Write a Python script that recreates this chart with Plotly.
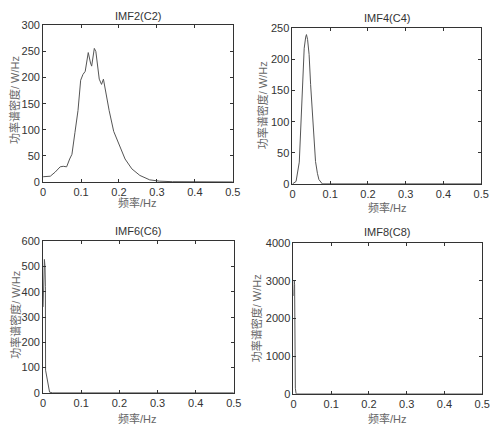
import plotly.graph_objects as go

# ---- data ----
c2_freq = [0, 0.01, 0.019, 0.032, 0.045, 0.053, 0.062, 0.070, 0.076, 0.084, 0.092, 0.099,
           0.105, 0.111, 0.119, 0.125, 0.128, 0.135, 0.139, 0.148, 0.154, 0.159, 0.165,
           0.174, 0.186, 0.195, 0.204, 0.216, 0.234, 0.255, 0.281, 0.307, 0.341, 0.4, 0.5]
c2_psd = [10, 10, 11, 19, 29, 30, 29, 44, 53, 95, 137, 195,
          206, 212, 248, 228, 222, 256, 250, 197, 187, 197, 172,
          137, 97, 81, 62, 44, 25, 12.5, 4, 1.5, 0.5, 0, 0]

c4_freq = [0, 0.0095, 0.018, 0.023, 0.027, 0.031, 0.035, 0.037, 0.040, 0.044, 0.048,
           0.053, 0.057, 0.061, 0.066, 0.070, 0.079, 0.5]
c4_psd = [0, 4, 35, 110, 182, 218, 236, 240, 232, 208, 160, 104, 65, 36, 17, 7, 0, 0]

c6_freq = [0, 0.002, 0.0034, 0.005, 0.006, 0.0065, 0.011, 0.017, 0.025, 0.5]
c6_psd = [340, 480, 528, 500, 420, 90, 45, 3, 0, 0]

c8_freq = [0, 0.001, 0.002, 0.003, 0.004, 0.005, 0.007, 0.5]
c8_psd = [2600, 2950, 3020, 2900, 1200, 150, 0, 0]

titles = ["IMF2(C2)", "IMF4(C4)", "IMF6(C6)", "IMF8(C8)"]
x_ticks = [0, 0.1, 0.2, 0.3, 0.4, 0.5]
y_ticks = [
    [0, 50, 100, 150, 200, 250, 300],
    [0, 50, 100, 150, 200, 250],
    [0, 100, 200, 300, 400, 500, 600],
    [0, 1000, 2000, 3000, 4000],
]
x_title = "频率/Hz"
y_title = "功率谱密度/ W/Hz"

W, H = 500, 430
FONT = "Liberation Sans, Arial, Noto Sans CJK SC, sans-serif"
LINE = "#555555"

# panel boxes in pixels: left, right, top, bottom
boxes = [(41, 235, 20, 181), (296, 489, 23, 183), (41, 236, 242, 398), (297, 490, 244, 399)]
title_pos = [(138, 10), (393, 12), (138, 231), (393, 233)]
xt_pos = [(138, 202), (393, 207), (138, 424), (393, 424)]
yt_pos = [(12, 97), (265, 102), (12, 318), (259, 321)]

series = [(c2_freq, c2_psd), (c4_freq, c4_psd), (c6_freq, c6_psd), (c8_freq, c8_psd)]

fig = go.Figure()
layout = {}
annotations = []
for i, ((fx, fy), (l, r, t, b)) in enumerate(zip(series, boxes)):
    n = "" if i == 0 else str(i + 1)
    fig.add_trace(go.Scatter(x=fx, y=fy, mode="lines", line=dict(color=LINE, width=1),
                             xaxis="x" + n, yaxis="y" + n, showlegend=False,
                             hoverinfo="skip"))
    common = dict(showgrid=False, zeroline=False, showline=True, linecolor="#333333",
                  linewidth=1, mirror="ticks", ticks="inside", ticklen=3,
                  tickcolor="#333333", tickfont=dict(family=FONT, size=11, color="#333333"))
    layout["xaxis" + n] = dict(common, domain=[l / W, r / W], anchor="y" + n,
                               range=[0, 0.5], tickvals=x_ticks,
                               ticktext=[("%g" % v) for v in x_ticks])
    layout["yaxis" + n] = dict(common, domain=[1 - b / H, 1 - t / H], anchor="x" + n,
                               range=[0, y_ticks[i][-1]], tickvals=y_ticks[i])
    annotations.append(dict(text=titles[i], x=title_pos[i][0] / W, y=1 - title_pos[i][1] / H,
                            xref="paper", yref="paper", showarrow=False,
                            xanchor="center", yanchor="middle",
                            font=dict(family=FONT, size=11, color="#333333")))
    annotations.append(dict(text=x_title, x=xt_pos[i][0] / W, y=1 - xt_pos[i][1] / H,
                            xref="paper", yref="paper", showarrow=False,
                            xanchor="center", yanchor="middle",
                            font=dict(family=FONT, size=11, color="#666666")))
    annotations.append(dict(text=y_title, x=yt_pos[i][0] / W, y=1 - yt_pos[i][1] / H,
                            xref="paper", yref="paper", showarrow=False, textangle=-90,
                            xanchor="center", yanchor="middle",
                            font=dict(family=FONT, size=11, color="#666666")))

fig.update_layout(**layout)
fig.update_layout(width=W, height=H, margin=dict(l=0, r=0, t=0, b=0),
                  paper_bgcolor="white", plot_bgcolor="white",
                  annotations=annotations, showlegend=False)
fig.write_html("out.html")
